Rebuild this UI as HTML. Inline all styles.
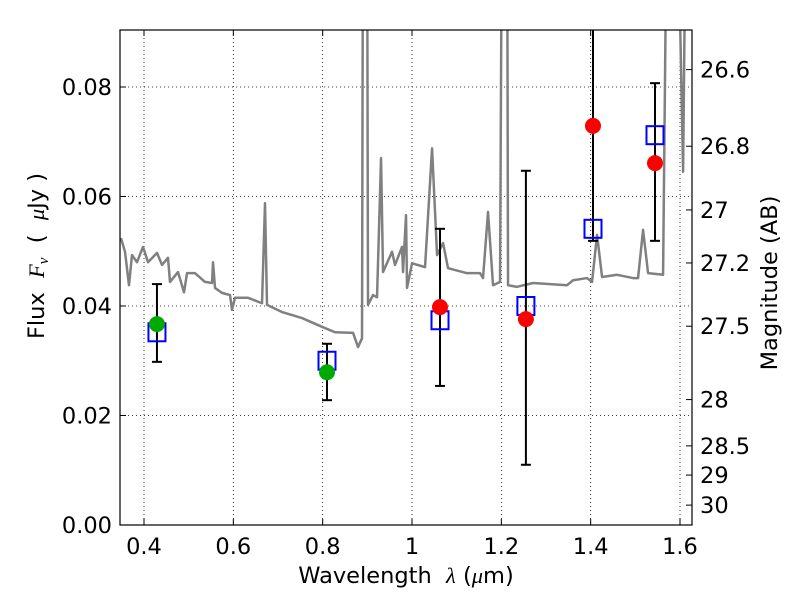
<!DOCTYPE html>
<html><head><meta charset="utf-8"><style>
body{margin:0;background:#fff;font-family:"Liberation Sans","DejaVu Sans",sans-serif}
svg text{font-family:"DejaVu Sans","Liberation Sans",sans-serif}
</style></head><body>
<svg id="chart" width="800" height="600"></svg>
<script>
const specLam=[0.3485,0.3575,0.3664,0.3731,0.3843,0.3978,0.409,0.4291,0.4403,0.4537,0.4582,0.4761,0.4896,0.4963,0.5142,0.5366,0.5523,0.5545,0.559,0.5746,0.5926,0.597,0.6037,0.6329,0.6642,0.6709,0.6754,0.709,0.7538,0.7985,0.8277,0.868,0.8792,0.8881,0.8904,0.8993,0.9015,0.9127,0.9217,0.9307,0.9351,0.9553,0.962,0.9777,0.9799,0.9866,0.9889,1.0001,1.0292,1.0449,1.0561,1.0695,1.0807,1.1232,1.1523,1.159,1.1702,1.1814,1.1971,1.2016,1.2128,1.215,1.2351,1.271,1.3471,1.3606,1.3919,1.4031,1.4143,1.4255,1.4591,1.4949,1.5061,1.5173,1.5285,1.5621,1.5711,1.5934,1.6069,1.6136,1.627];
const specFlux=[0.0524,0.0499,0.0438,0.0493,0.048,0.0508,0.048,0.0497,0.0475,0.0488,0.0444,0.0462,0.0425,0.046,0.046,0.0444,0.0442,0.048,0.0433,0.0424,0.042,0.0393,0.0415,0.0415,0.0405,0.0588,0.0402,0.0389,0.0378,0.0362,0.0352,0.0351,0.0325,0.0341,0.12,0.12,0.0402,0.042,0.0416,0.067,0.0462,0.0499,0.0475,0.0508,0.0462,0.0566,0.0433,0.0478,0.0471,0.0688,0.0493,0.0515,0.0469,0.046,0.046,0.0451,0.0572,0.0438,0.0444,0.12,0.12,0.0438,0.0435,0.0442,0.0438,0.0447,0.0451,0.0444,0.053,0.0453,0.0457,0.0451,0.0451,0.0539,0.046,0.0457,0.12,0.12,0.0645,0.12,0.12];
const obsLam=[0.429,0.8097,1.0627,1.255,1.4052,1.544];
const obsFlux=[0.0367,0.0279,0.0398,0.0376,0.0729,0.0661];
const obsHi=[0.0440,0.0331,0.0541,0.0647,0.12,0.0807];
const obsLo=[0.0298,0.0228,0.0254,0.0110,0.0519,0.0519];
const obsColor=['#00aa00','#00aa00','red','red','red','red'];
const modelFlux=[0.0352,0.0300,0.0374,0.0400,0.0541,0.0712];
const xTicks=[0.4,0.6,0.8,1.0,1.2,1.4,1.6];
const xTickLabels=['0.4','0.6','0.8','1','1.2','1.4','1.6'];
const yTicks=[0,0.02,0.04,0.06,0.08];
const yTickLabels=['0.00','0.02','0.04','0.06','0.08'];
const magTicks=[26.6,26.8,27,27.2,27.5,28,28.5,29,30];
const magTickLabels=['26.6','26.8','27','27.2','27.5','28','28.5','29','30'];

const L=120,R=692,T=30,B=525;
const FS=22.5;
const sx=v=>144+(v-0.4)*446.67;
const sy=v=>525-v*5475;
const svg=document.getElementById('chart');
const NS='http://www.w3.org/2000/svg';
function mk(t,a,p){const e=document.createElementNS(NS,t);for(const k in a)e.setAttribute(k,a[k]);(p||svg).appendChild(e);return e;}
const defs=mk('defs',{});const cp=mk('clipPath',{id:'clip'},defs);mk('rect',{x:L,y:T,width:R-L,height:B-T},cp);
xTicks.forEach((v,i)=>{const x=sx(v);
 const g=mk('line',{x1:x,x2:x,y1:T,y2:B,stroke:'#000','stroke-width':0.8,'stroke-dasharray':'1,3'});
 
 mk('line',{x1:x,x2:x,y1:B,y2:B-6,stroke:'#000'});mk('line',{x1:x,x2:x,y1:T,y2:T+6,stroke:'#000'});
 const t=mk('text',{x:x,y:B+29,'text-anchor':'middle','font-size':FS});t.textContent=xTickLabels[i];
 });
yTicks.forEach((v,i)=>{const y=sy(v);
 if(v>0){const g=mk('line',{x1:L,x2:R,y1:y,y2:y,stroke:'#000','stroke-width':0.8,'stroke-dasharray':'1,3'});
 }
 mk('line',{x1:L,x2:L+6,y1:y,y2:y,stroke:'#000'});
 const t=mk('text',{x:L-8,y:y+8,'text-anchor':'end','font-size':FS});t.textContent=yTickLabels[i];
 });
magTicks.forEach((m,i)=>{const f=Math.pow(10,(23.9-m)/2.5);const y=sy(f);
 mk('line',{x1:R,x2:R-6,y1:y,y2:y,stroke:'#000'});
 const t=mk('text',{x:R+8,y:y+8,'font-size':FS});t.textContent=magTickLabels[i];
 });
const pl=mk('polyline',{points:specLam.map((l,i)=>sx(l)+','+sy(specFlux[i])).join(' '),fill:'none',stroke:'#808080','stroke-width':2.5,'stroke-linejoin':'round','clip-path':'url(#clip)'});

const gp=mk('g',{'clip-path':'url(#clip)'});
obsLam.forEach((l,i)=>{const x=sx(l);
 const e=mk('line',{x1:x,x2:x,y1:sy(obsHi[i]),y2:sy(obsLo[i]),stroke:'#000','stroke-width':2},gp);
 
 [obsHi[i],obsLo[i]].forEach(v=>mk('line',{x1:x-5,x2:x+5,y1:sy(v),y2:sy(v),stroke:'#000','stroke-width':2},gp));
 const s=mk('rect',{x:x-8.5,y:sy(modelFlux[i])-9,width:17,height:18,fill:'none',stroke:'#0000ff','stroke-width':2},gp);
 
 const c=mk('circle',{cx:x,cy:sy(obsFlux[i]),r:8,fill:obsColor[i]},gp);
 });
const fr=mk('rect',{x:L,y:T,width:R-L,height:B-T,fill:'none',stroke:'#000','stroke-width':1.2});

const xl=mk('text',{x:406,y:583,'text-anchor':'middle','font-size':FS});xl.innerHTML='Wavelength\u00a0\u00a0<tspan font-style="italic" font-family="Liberation Serif">λ</tspan> (<tspan font-style="italic" font-family="Liberation Serif">μ</tspan>m)';

const yl=mk('text',{x:0,y:0,'text-anchor':'middle','font-size':FS,transform:'translate(44,256) rotate(-90)'});yl.innerHTML='Flux\u00a0\u00a0<tspan font-style="italic" font-family="Liberation Serif">F</tspan><tspan font-size="15" font-style="italic" font-family="Liberation Serif" dy="4">ν</tspan><tspan dy="-4">\u00a0\u00a0(\u00a0\u00a0</tspan><tspan font-style="italic" font-family="Liberation Serif">μ</tspan>Jy )';

const rl=mk('text',{x:0,y:0,'text-anchor':'middle','font-size':FS,transform:'translate(777,283) rotate(-90)'});rl.textContent='Magnitude (AB)';

</script>
</body></html>
